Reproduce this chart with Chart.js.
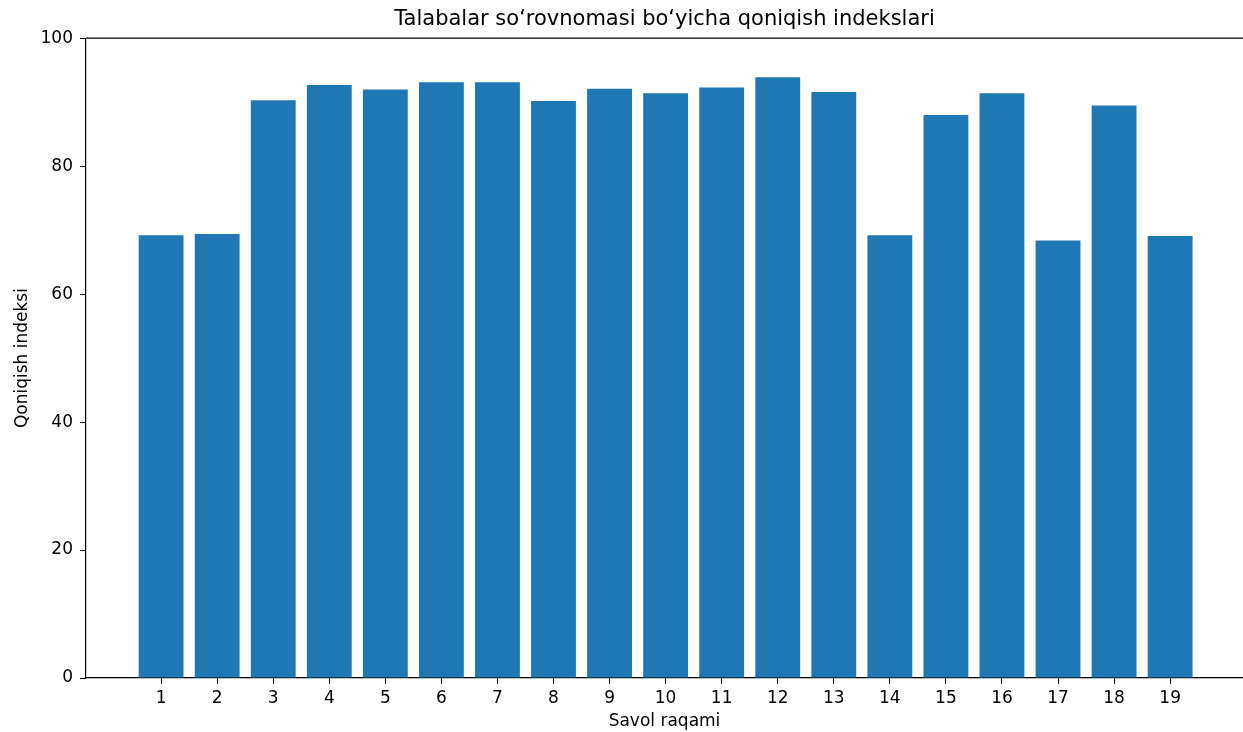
<!DOCTYPE html>
<html>
<head>
<meta charset="utf-8">
<script src="https://cdn.jsdelivr.net/npm/chart.js@4.4.0/dist/chart.umd.min.js"></script>
<style>
  html, body { margin: 0; padding: 0; background: #fff; }
  #wrap { width: 1243px; height: 732px; position: relative; }
</style>
</head>
<body>
<div id="wrap"><canvas id="chart"></canvas></div>
<script>
// Question numbers and their satisfaction index
const questions = [1, 2, 3, 4, 5, 6, 7, 8, 9, 10, 11, 12, 13, 14, 15, 16, 17, 18, 19];
const indexValues = [69.2, 69.4, 90.3, 92.7, 92.0, 93.1, 93.1, 90.2, 92.1, 91.4, 92.3, 93.9, 91.6, 69.2, 88.0, 91.4, 68.4, 89.5, 69.1];
const yTicks = [0, 20, 40, 60, 80, 100];

const FONT = 'DejaVu Sans';

// matplotlib draws a top spine too; Chart.js only gives us left/bottom borders
const topSpine = {
    id: 'topSpine',
    afterDraw(chart) {
        const { ctx, chartArea } = chart;
        ctx.save();
        ctx.strokeStyle = '#000';
        ctx.lineWidth = 1.2;
        ctx.beginPath();
        ctx.moveTo(chartArea.left, chartArea.top);
        ctx.lineTo(chartArea.right, chartArea.top);
        ctx.stroke();
        ctx.restore();
    }
};

const points = questions.map((q, i) => ({ x: q, y: indexValues[i] }));

new Chart(document.getElementById('chart'), {
    type: 'bar',
    data: {
        datasets: [{
            data: points,
            backgroundColor: '#1f77b4',
            borderWidth: 0,
            barPercentage: 0.8,
            categoryPercentage: 1.0
        }]
    },
    options: {
        responsive: true,
        maintainAspectRatio: false,
        animation: false,
        layout: { padding: { left: 0, right: 0, top: 0, bottom: 0 } },
        plugins: {
            legend: { display: false },
            tooltip: { enabled: false },
            title: {
                display: true,
                fullSize: false,
                text: 'Talabalar so‘rovnomasi bo‘yicha qoniqish indekslari',
                color: '#000',
                font: { family: FONT, size: 21, weight: 'normal' },
                padding: { top: 7, bottom: 6 }
            }
        },
        scales: {
            x: {
                type: 'linear',
                offset: false,
                min: -0.34,
                max: 20.30,
                afterBuildTicks: s => { s.ticks = questions.map(v => ({ value: v })); },
                afterFit: s => { s.height = 54; },
                ticks: {
                    color: '#000',
                    font: { family: FONT, size: 17 },
                    padding: 4,
                    maxRotation: 0,
                    autoSkip: false,
                    callback: v => String(v)
                },
                grid: { offset: false, drawOnChartArea: false, drawTicks: true, tickLength: 6, color: '#000', lineWidth: 1 },
                border: { display: true, color: '#000', width: 1.2 },
                title: {
                    display: true,
                    text: 'Savol raqami',
                    color: '#000',
                    font: { family: FONT, size: 17 },
                    padding: { top: 0, bottom: 0 }
                }
            },
            y: {
                min: 0,
                max: 100,
                afterBuildTicks: s => { s.ticks = yTicks.map(v => ({ value: v })); },
                afterFit: s => { s.width = 86; },
                ticks: {
                    color: '#000',
                    font: { family: FONT, size: 17 },
                    padding: 7
                },
                grid: { drawOnChartArea: false, drawTicks: true, tickLength: 6, color: '#000', lineWidth: 1 },
                border: { display: true, color: '#000', width: 1.2 },
                title: {
                    display: true,
                    text: 'Qoniqish indeksi',
                    color: '#000',
                    font: { family: FONT, size: 17 },
                    padding: { top: 12, bottom: 0 }
                }
            }
        }
    },
    plugins: [topSpine]
});
</script>
</body>
</html>
